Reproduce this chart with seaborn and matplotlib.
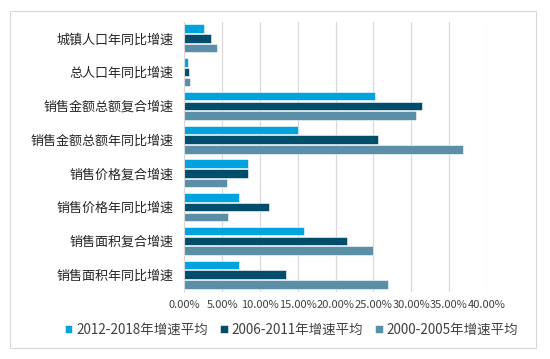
import matplotlib

matplotlib.use("Agg")
import matplotlib.pyplot as plt
import pandas as pd
import seaborn as sns
from matplotlib.ticker import FuncFormatter
from matplotlib.patches import Rectangle

categories = [
    "城镇人口年同比增速",
    "总人口年同比增速",
    "销售金额总额复合增速",
    "销售金额总额年同比增速",
    "销售价格复合增速",
    "销售价格年同比增速",
    "销售面积复合增速",
    "销售面积年同比增速",
]
series = ["2012-2018年增速平均", "2006-2011年增速平均", "2000-2005年增速平均"]
v_2012_2018 = [0.026, 0.005, 0.252, 0.150, 0.084, 0.072, 0.158, 0.072]
v_2006_2011 = [0.035, 0.006, 0.314, 0.256, 0.084, 0.112, 0.215, 0.134]
v_2000_2005 = [0.043, 0.007, 0.306, 0.369, 0.056, 0.058, 0.249, 0.270]
colors = ["#00A3DE", "#004E6C", "#5B8FA7"]

df = pd.DataFrame({
    "category": categories * 3,
    "series": [s for s in series for _ in categories],
    "value": v_2012_2018 + v_2006_2011 + v_2000_2005,
})

sns.set_style("white")
plt.rcParams["font.family"] = ["Noto Sans CJK SC", "DejaVu Sans"]

fig = plt.figure(figsize=(5.5, 3.59), dpi=100)
ax = fig.add_axes([0.335, 0.188, 0.55, 0.752])

sns.barplot(data=df, y="category", x="value", hue="series", order=categories,
            hue_order=series, palette=colors, orient="h", width=0.86, gap=0.12,
            edgecolor="white", linewidth=0.4, saturation=1, ax=ax)

ax.set_xlim(0, 0.40)
ax.set_xticks([i * 0.05 for i in range(9)])
ax.xaxis.set_major_formatter(FuncFormatter(lambda v, _: f"{v * 100:.2f}%"))
ax.tick_params(axis="x", labelsize=8, length=0, pad=6, colors="#404040")
ax.tick_params(axis="y", labelsize=9.4, length=0, pad=8, colors="#262626")
ax.grid(axis="x", color="#D9D9D9", linewidth=0.9)
ax.set_axisbelow(True)
for side in ["top", "right", "bottom"]:
    ax.spines[side].set_visible(False)
ax.spines["left"].set_color("#D9D9D9")
ax.set_xlabel("")
ax.set_ylabel("")

ax.legend(loc="upper center", bbox_to_anchor=(0.355, -0.07), ncol=3, frameon=False,
          fontsize=9.7, handlelength=0.55, handleheight=0.55, handletextpad=0.3,
          columnspacing=0.9, labelcolor="#404040")

fig.patches.append(Rectangle((0.018, 0.03), 0.957, 0.94, transform=fig.transFigure,
                             fill=False, edgecolor="#D9D9D9", linewidth=0.8))

fig.savefig("out.png", dpi=100)
